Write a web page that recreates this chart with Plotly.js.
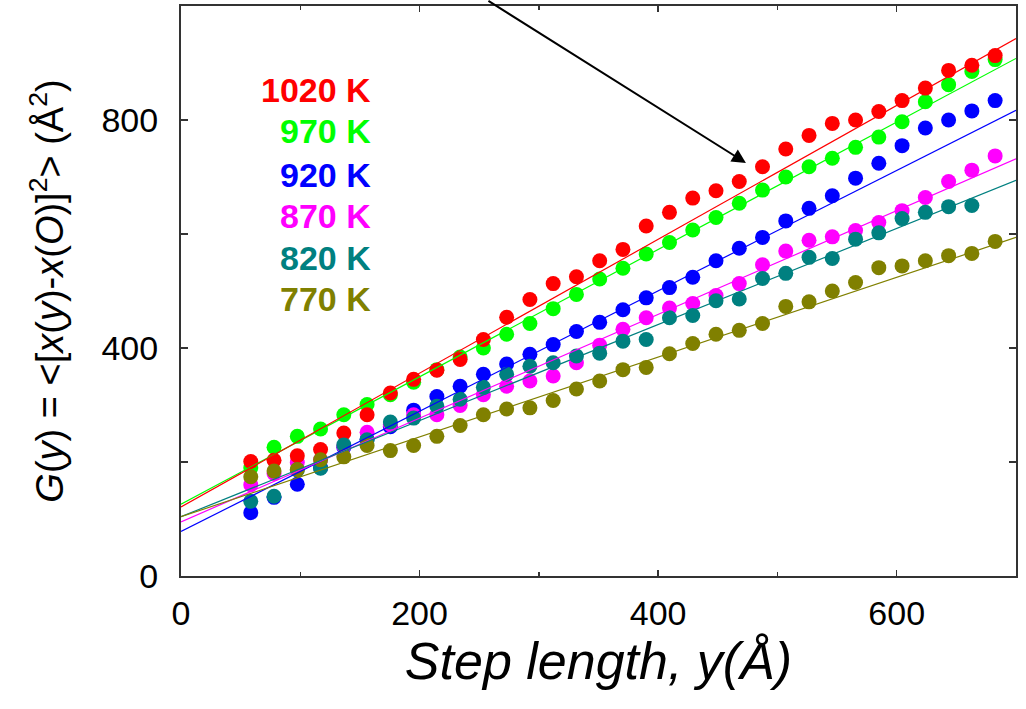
<!DOCTYPE html>
<html>
<head>
<meta charset="utf-8">
<script src="https://cdn.plot.ly/plotly-3.0.1.min.js"></script>
<style>
  html, body { margin: 0; padding: 0; background: #ffffff; }
  #chart { width: 1026px; height: 709px; }
</style>
</head>
<body>
<div id="chart"></div>
<script>
// Step length y (Å) at which G(y) was sampled
const stepLength = [58.5, 78, 97.5, 117, 136.5, 156, 175.5, 195, 214.5, 234, 253.5, 273, 292.5, 312,
  331.5, 351, 370.5, 390, 409.5, 429, 448.5, 468, 487.5, 507, 526.5, 546, 565.5, 585, 604.5,
  624, 643.5, 663, 682.5];

// Series labels and colours
const seriesNames = ['1020 K', '970 K', '920 K', '870 K', '820 K', '770 K'];
const seriesColors = ['#ff0000', '#00ff00', '#0000ff', '#ff00ff', '#008080', '#808000'];

// G(y) (Å²) for each temperature
const g1020 = [201, 203, 211, 222, 251, 283, 321, 345, 361, 380, 415, 454, 485, 513, 525, 553, 573,
  614, 638, 663, 676, 692, 718, 749, 773, 794, 800, 815, 834, 856, 887, 896, 913];
const g970 = [190, 226, 245, 258, 283, 301, 318, 340, 362, 384, 400, 424, 443, 469, 494, 521, 540,
  565, 585, 607, 629, 654, 677, 700, 718, 733, 752, 770, 797, 832, 862, 885, 906];
const g920 = [111, 138, 161, 190, 226, 240, 262, 291, 315, 333, 354, 372, 389, 406, 429, 445, 467,
  488, 506, 524, 553, 575, 594, 623, 645, 667, 698, 724, 755, 786, 800, 816, 834];
const g870 = [160, 180, 199, 204, 228, 252, 266, 283, 283, 299, 318, 333, 342, 351, 374, 405, 433,
  453, 470, 478, 492, 513, 546, 570, 589, 595, 606, 620, 641, 664, 692, 712, 737];
const g820 = [131, 140, 186, 189, 230, 239, 270, 277, 298, 310, 331, 354, 368, 374, 386, 391, 412,
  415, 453, 457, 483, 486, 522, 531, 559, 557, 591, 602, 627, 638, 648, 650, null];
const g770 = [174, 184, 187, 204, 209, 229, 220, 229, 245, 264, 283, 293, 295, 308, 328, 342, 362,
  366, 390, 408, 424, 431, 443, 473, 481, 500, 515, 541, 544, 553, 562, 566, 587];

// Linear fits: value at y = 0 and at y = 700
const fitX = [0, 700];
const fit1020 = [121, 943];
const fit970 = [126, 908];
const fit920 = [78, 817];
const fit870 = [95, 732];
const fit820 = [104, 694];
const fit770 = [104, 594];

// Axis ticks: labelled majors and unlabelled minors
const xTickVals = [0, 200, 400, 600];
const xMinorVals = [100, 300, 500];
const yTickVals = [0, 400, 800];
const yMinorVals = [200, 600];

const seriesData = [g1020, g970, g920, g870, g820, g770];
const seriesFits = [fit1020, fit970, fit920, fit870, fit820, fit770];

// markers are layered so that 1020, 820 and 770 K sit on top
const markerOrder = [1, 2, 3, 0, 4, 5];

const traces = [];
markerOrder.forEach(function (i) {
  traces.push({
    type: 'scatter', mode: 'markers',
    x: stepLength, y: seriesData[i], name: seriesNames[i],
    marker: { color: seriesColors[i], size: 15, line: { width: 0 } },
    showlegend: false, hoverinfo: 'x+y+name'
  });
});
markerOrder.forEach(function (i) {
  traces.push({
    type: 'scatter', mode: 'lines',
    x: fitX, y: seriesFits[i], name: seriesNames[i] + ' fit',
    line: { color: seriesColors[i], width: 1.2 },
    showlegend: false, hoverinfo: 'skip'
  });
});

const labelY = [853, 780, 703, 631, 558, 486];
const annotations = seriesNames.map(function (name, i) {
  return {
    x: 161, y: labelY[i], xref: 'x', yref: 'y',
    text: '<b>' + name + '</b>', showarrow: false,
    xanchor: 'right', yanchor: 'middle',
    font: { family: 'Liberation Sans, Arial, sans-serif', size: 34, color: seriesColors[i] }
  };
});
annotations.push({
  x: 473.6, y: 724.7, xref: 'x', yref: 'y',
  ax: -259, ay: -164, axref: 'pixel', ayref: 'pixel',
  text: '', showarrow: true, arrowhead: 2, arrowsize: 1.4, arrowwidth: 2,
  arrowcolor: '#000000', standoff: 0
});

const axisFont = { family: 'Liberation Sans, Arial, sans-serif', size: 34, color: '#000000' };

const layout = {
  width: 1026, height: 709,
  margin: { l: 181, r: 10, t: 6, b: 133 },
  paper_bgcolor: '#ffffff', plot_bgcolor: '#ffffff',
  showlegend: false,
  xaxis: {
    range: [0, 700], tickvals: xTickVals,
    ticks: 'inside', ticklen: 6, tickwidth: 1.5, tickcolor: '#333333',
    minor: { tickvals: xMinorVals, ticks: 'inside', ticklen: 4, tickwidth: 1.5, tickcolor: '#333333', showgrid: false },
    showline: true, linecolor: '#333333', linewidth: 2, mirror: 'ticks',
    showgrid: false, zeroline: false,
    tickfont: axisFont, ticklabelstandoff: 6,
    title: {
      text: 'Step length, y(Å)', standoff: 8,
      font: { family: 'Liberation Sans, Arial, sans-serif', size: 52, style: 'italic', color: '#000000' }
    }
  },
  yaxis: {
    range: [0, 1000], tickvals: yTickVals,
    ticks: 'inside', ticklen: 7, tickwidth: 1.5, tickcolor: '#333333',
    minor: { tickvals: yMinorVals, ticks: 'inside', ticklen: 7, tickwidth: 1.5, tickcolor: '#333333', showgrid: false },
    showline: true, linecolor: '#333333', linewidth: 2, mirror: 'ticks',
    showgrid: false, zeroline: false,
    tickfont: axisFont, ticklabelstandoff: 14,
    title: {
      text: '<i>G</i>(<i>y</i>) = &lt;[<i>x</i>(<i>y</i>)-<i>x</i>(<i>O</i>)]<sup>2</sup>&gt; (Å<sup>2</sup>)',
      standoff: 26,
      font: { family: 'Liberation Sans, Arial, sans-serif', size: 38, color: '#000000' }
    }
  },
  annotations: annotations
};

Plotly.newPlot('chart', traces, layout, { staticPlot: true, displayModeBar: false });
</script>
</body>
</html>
